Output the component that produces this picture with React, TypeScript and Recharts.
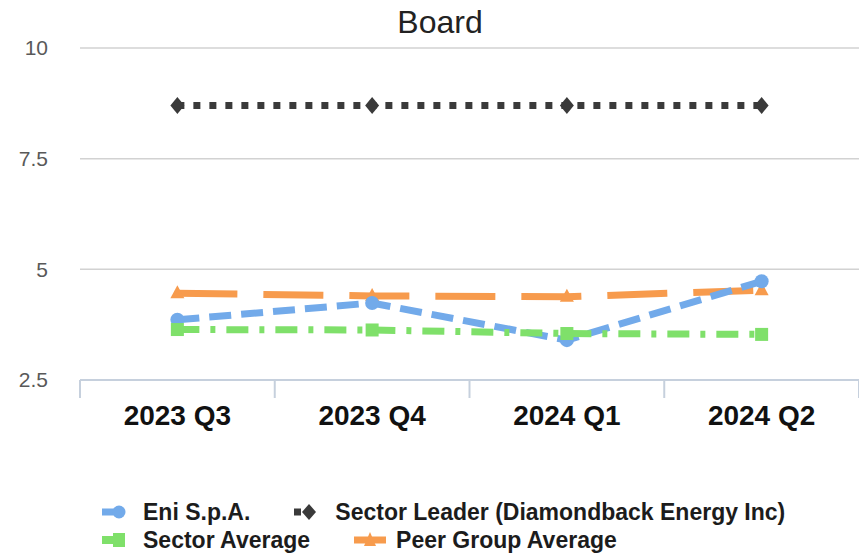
import React from "react";
import {
  LineChart,
  Line,
  XAxis,
  YAxis,
  CartesianGrid,
  Legend,
} from "recharts";

// Board score by quarter — Eni vs sector leader, sector average and peer group.

const quarters = ["2023 Q3", "2023 Q4", "2024 Q1", "2024 Q2"];
const eniScores = [3.86, 4.24, 3.4, 4.73];
const leaderScores = [8.7, 8.7, 8.7, 8.7];
const sectorAvgScores = [3.64, 3.63, 3.55, 3.53];
const peerAvgScores = [4.46, 4.4, 4.38, 4.53];
const yTicks = [2.5, 5, 7.5, 10];

const BLUE = "#72aaea";
const DARK = "#3a3a3a";
const GREEN = "#7fe06a";
const ORANGE = "#f79b4d";
const GRID = "#d2d2d2";
const AXIS = "#c6d0dd";
const FONT = '"Liberation Sans", Arial, sans-serif';

const CHART_W = 859;
const Y_AXIS_W = 80;
// half of one category band, so points sit in the middle of their band
const HALF_BAND = (CHART_W - Y_AXIS_W) / quarters.length / 2;

const data = quarters.map((q, i) => ({
  quarter: q,
  eni: eniScores[i],
  leader: leaderScores[i],
  sectorAvg: sectorAvgScores[i],
  peerAvg: peerAvgScores[i],
}));

type DotProps = { cx?: number; cy?: number; index?: number };

const CircleDot = ({ cx = 0, cy = 0, index }: DotProps) => (
  <circle key={`c${index}`} cx={cx} cy={cy} r={7} fill={BLUE} />
);

const DiamondDot = ({ cx = 0, cy = 0, index }: DotProps) => (
  <path
    key={`d${index}`}
    d={`M${cx},${cy - 8.5} L${cx + 7},${cy} L${cx},${cy + 8.5} L${cx - 7},${cy} Z`}
    fill={DARK}
  />
);

const SquareDot = ({ cx = 0, cy = 0, index }: DotProps) => (
  <rect key={`s${index}`} x={cx - 6.5} y={cy - 6.5} width={13} height={13} fill={GREEN} />
);

const TriangleDot = ({ cx = 0, cy = 0, index }: DotProps) => (
  <path
    key={`t${index}`}
    d={`M${cx},${cy - 8} L${cx + 7},${cy + 5} L${cx - 7},${cy + 5} Z`}
    fill={ORANGE}
  />
);

// category tick: label in the middle, tick marks on the band edges
function QuarterTick(props: any) {
  const { x, y, payload, index } = props;
  const last = index === quarters.length - 1;
  return (
    <g>
      <line x1={x - HALF_BAND} x2={x - HALF_BAND} y1={y} y2={y + 18} stroke={AXIS} strokeWidth={2} />
      {last && (
        <line x1={x + HALF_BAND} x2={x + HALF_BAND} y1={y} y2={y + 18} stroke={AXIS} strokeWidth={2} />
      )}
      <text
        x={x}
        y={y + 25}
        dy="0.71em"
        textAnchor="middle"
        fill="#111"
        fontSize={28}
        fontWeight="bold"
        fontFamily={FONT}
      >
        {payload.value}
      </text>
    </g>
  );
}

const legendRows = [
  [
    { key: "eni", label: "Eni S.p.A." },
    { key: "leader", label: "Sector Leader (Diamondback Energy Inc)" },
  ],
  [
    { key: "sectorAvg", label: "Sector Average" },
    { key: "peerAvg", label: "Peer Group Average" },
  ],
];

function LegendIcon({ k }: { k: string }) {
  const c = 14;
  let shape: React.ReactNode = null;
  if (k === "eni") {
    shape = (
      <>
        <rect x={0} y={c - 3.5} width={15} height={7} fill={BLUE} />
        <circle cx={17} cy={c} r={6.5} fill={BLUE} />
      </>
    );
  } else if (k === "leader") {
    shape = (
      <>
        <rect x={0} y={c - 3.5} width={7} height={7} fill={DARK} />
        <path d={`M15,${c - 8} L22,${c} L15,${c + 8} L8,${c} Z`} fill={DARK} />
      </>
    );
  } else if (k === "sectorAvg") {
    shape = (
      <>
        <rect x={0} y={c - 4} width={13} height={8} fill={GREEN} />
        <rect x={11} y={c - 7} width={12} height={14} fill={GREEN} />
      </>
    );
  } else {
    shape = (
      <>
        <rect x={0} y={c - 3.5} width={32} height={7} fill={ORANGE} />
        <path d={`M16,${c - 8} L22,${c + 6} L10,${c + 6} Z`} fill={ORANGE} />
      </>
    );
  }
  const w = k === "peerAvg" ? 42 : 41;
  return (
    <svg width={w} height={28} style={{ flex: "none" }}>
      {shape}
    </svg>
  );
}

function LegendContent() {
  return (
    <div style={{ fontFamily: FONT, fontSize: 23, fontWeight: "bold", color: "#1c1c1c" }}>
      {legendRows.map((row, r) => (
        <div key={r} style={{ display: "flex", height: 28, lineHeight: "28px" }}>
          {row.map((item) => (
            <div
              key={item.key}
              style={{ display: "flex", alignItems: "center", marginRight: 44, whiteSpace: "nowrap" }}
            >
              <LegendIcon k={item.key} />
              <span>{item.label}</span>
            </div>
          ))}
        </div>
      ))}
    </div>
  );
}

export default function App() {
  return (
    <div
      style={{
        position: "absolute",
        left: 0,
        top: 0,
        width: CHART_W,
        height: 556,
        background: "#fff",
        fontFamily: FONT,
      }}
    >
      <div
        style={{
          position: "absolute",
          left: 0,
          top: 4,
          width: 880,
          textAlign: "center",
          fontSize: 32,
          color: "#222",
        }}
      >
        Board
      </div>
      <LineChart
        width={CHART_W}
        height={556}
        data={data}
        margin={{ top: 48, right: 0, bottom: 116, left: 0 }}
      >
        <CartesianGrid horizontal vertical={false} stroke={GRID} strokeWidth={1.5} />
        <XAxis
          dataKey="quarter"
          height={60}
          padding={{ left: HALF_BAND, right: HALF_BAND }}
          axisLine={{ stroke: AXIS, strokeWidth: 2 }}
          tickLine={false}
          tickSize={0}
          tickMargin={0}
          interval={0}
          tick={<QuarterTick />}
        />
        <YAxis
          width={Y_AXIS_W}
          domain={[2.5, 10]}
          ticks={yTicks}
          axisLine={false}
          tickLine={false}
          tickSize={0}
          tickMargin={32}
          tick={{ fill: "#595959", fontSize: 21, fontFamily: FONT }}
        />
        <Legend
          layout="vertical"
          align="center"
          verticalAlign="middle"
          wrapperStyle={{ left: 102, top: 498, width: 740 }}
          content={<LegendContent />}
        />
        <Line
          type="linear"
          dataKey="peerAvg"
          name="Peer Group Average"
          stroke={ORANGE}
          strokeWidth={7}
          strokeDasharray="60 26"
          dot={TriangleDot}
          activeDot={false}
          isAnimationActive={false}
        />
        <Line
          type="linear"
          dataKey="eni"
          name="Eni S.p.A."
          stroke={BLUE}
          strokeWidth={7}
          strokeDasharray="22 10"
          dot={CircleDot}
          activeDot={false}
          isAnimationActive={false}
        />
        <Line
          type="linear"
          dataKey="sectorAvg"
          name="Sector Average"
          stroke={GREEN}
          strokeWidth={7}
          strokeDasharray="22 11 5 11"
          dot={SquareDot}
          activeDot={false}
          isAnimationActive={false}
        />
        <Line
          type="linear"
          dataKey="leader"
          name="Sector Leader (Diamondback Energy Inc)"
          stroke={DARK}
          strokeWidth={7}
          strokeDasharray="7 9"
          dot={DiamondDot}
          activeDot={false}
          isAnimationActive={false}
        />
      </LineChart>
    </div>
  );
}
